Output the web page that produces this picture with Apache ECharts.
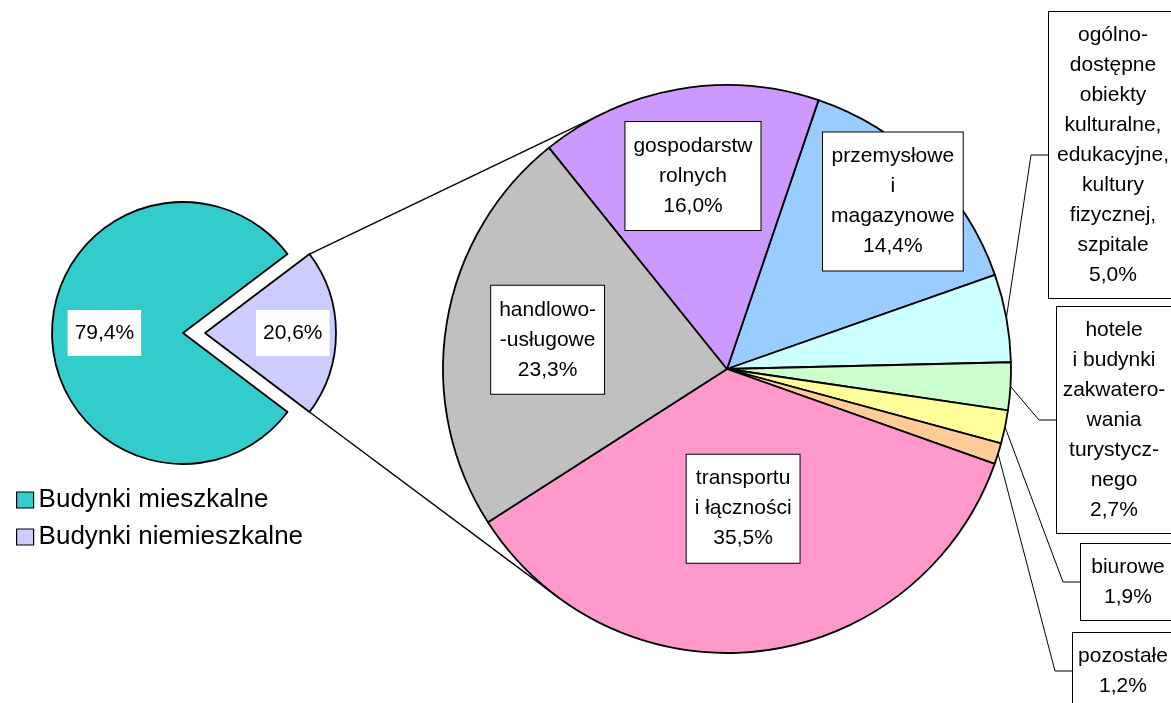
<!DOCTYPE html>
<html><head><meta charset="utf-8">
<script src="https://cdn.jsdelivr.net/npm/echarts@6/dist/echarts.min.js"></script>
<style>html,body{margin:0;padding:0;background:#fff;overflow:hidden}#chart{width:1171px;height:703px}</style>
</head><body><div id="chart"></div>
<script>
// ---------------- data ----------------
const mainCategories = ['Budynki mieszkalne', 'Budynki niemieszkalne'];
const mainValues = [79.4, 20.6];
const subCategories = [
  'przemysłowe\ni\nmagazynowe',
  'ogólno-\ndostępne\nobiekty\nkulturalne,\nedukacyjne,\nkultury\nfizycznej,\nszpitale',
  'hotele\ni budynki\nzakwatero-\nwania\nturystycz-\nnego',
  'biurowe',
  'pozostałe',
  'transportu\ni łączności',
  'handlowo-\n-usługowe',
  'gospodarstw\nrolnych'
];
const subValues = [14.4, 5.0, 2.7, 1.9, 1.2, 35.5, 23.3, 16.0];

// ---------------- styles / layout ----------------
const mainColors = ['#33CCCC', '#CCCCFF'];
const subColors = ['#99CCFF', '#CCFFFF', '#CCFFCC', '#FFFF99', '#FFCC99', '#FF99CC', '#C0C0C0', '#CC99FF'];
const FONT = "'Liberation Sans', Arial, Helvetica, sans-serif";
const mainPie = { cx: 183, cy: 333, r: 131, explode: 22 };
const subPie = { cx: 727, cy: 369, r: 284, startAngle: 71.2 };
const mainLabelDist = [0.6, 0.67];
const innerLabelDist = { 0: 0.83, 5: 0.495, 6: 0.64, 7: 0.69 };
const outerLabelBoxes = {
  1: { left: 1049, cy: 155, w: 128 },
  2: { left: 1057, cy: 420, w: 114 },
  3: { left: 1081, cy: 582, w: 94 },
  4: { left: 1073, cy: 671, w: 100 }
};
const leaderKnee = 18;
const PADH = 8;
const BORDER = 1.8;

function fmt(v) { return v.toFixed(1).replace('.', ',') + '%'; }
function sum(a) { return a.reduce((s, v) => s + v, 0); }
function midAngles(values, start) {
  const total = sum(values);
  let a = start;
  return values.map(v => { const span = v / total * 360; const m = a - span / 2; a -= span; return m; });
}
const RAD = Math.PI / 180;
const mainHalf = mainValues[1] / sum(mainValues) * 180;
const mainStart = 360 - mainHalf;
const mainMids = midAngles(mainValues, mainStart);
const subMids = midAngles(subValues, subPie.startAngle);

const baseLabel = {
  color: '#000', fontFamily: FONT, fontSize: 21, lineHeight: 30,
  backgroundColor: '#fff', overflow: 'none'
};

// exploded slice apex
const apexX = mainPie.cx + mainPie.explode * Math.cos(mainMids[1] * RAD);
const apexY = mainPie.cy - mainPie.explode * Math.sin(mainMids[1] * RAD);

// connector lines: from the exploded slice corners, tangent to the second pie
function tangentPoint(px, py, cx, cy, R, upper) {
  const dx = px - cx, dy = py - cy;
  const d = Math.hypot(dx, dy);
  const base = Math.atan2(dy, dx);
  const off = Math.acos(R / d);
  const a = upper ? base + off : base - off;
  return [cx + R * Math.cos(a), cy + R * Math.sin(a)];
}
const cornerTop = [apexX + mainPie.r * Math.cos(mainHalf * RAD), apexY - mainPie.r * Math.sin(mainHalf * RAD)];
const cornerBot = [apexX + mainPie.r * Math.cos(-mainHalf * RAD), apexY - mainPie.r * Math.sin(-mainHalf * RAD)];
const tTop = tangentPoint(cornerTop[0], cornerTop[1], subPie.cx, subPie.cy, subPie.r, true);
const tBot = tangentPoint(cornerBot[0], cornerBot[1], subPie.cx, subPie.cy, subPie.r, false);

function mainLabelPos(i, cx, cy) {
  const m = mainMids[i] * RAD, rr = mainLabelDist[i] * mainPie.r;
  return { x: cx + rr * Math.cos(m), y: cy - rr * Math.sin(m), align: 'center', verticalAlign: 'middle' };
}

const chart = echarts.init(document.getElementById('chart'), null, { renderer: 'canvas' });
chart.setOption({
  animation: false,
  backgroundColor: '#fff',
  legend: {
    data: mainCategories,
    orient: 'vertical',
    left: 11, top: 482,
    itemWidth: 17, itemHeight: 16, itemGap: 11,
    icon: 'rect',
    selectedMode: false,
    itemStyle: { borderColor: '#000', borderWidth: 1.2 },
    textStyle: { fontFamily: FONT, fontSize: 26, lineHeight: 24, color: '#000' }
  },
  graphic: [
    { type: 'line', z: 1, shape: { x1: cornerTop[0], y1: cornerTop[1], x2: tTop[0], y2: tTop[1] }, style: { stroke: '#000', lineWidth: 1.4 } },
    { type: 'line', z: 1, shape: { x1: cornerBot[0], y1: cornerBot[1], x2: tBot[0], y2: tBot[1] }, style: { stroke: '#000', lineWidth: 1.4 } }
  ],
  series: [
    {
      // left pie (with the exploded "non-residential" slice)
      type: 'pie',
      center: [mainPie.cx, mainPie.cy],
      radius: [0, mainPie.r],
      startAngle: mainStart,
      clockwise: true,
      selectedMode: 'single',
      selectedOffset: mainPie.explode,
      avoidLabelOverlap: false,
      emphasis: { disabled: true },
      itemStyle: { borderColor: '#000', borderWidth: BORDER },
      label: Object.assign({}, baseLabel, { position: 'inside', padding: [8, 7], formatter: p => fmt(p.value) }),
      labelLine: { show: false },
      labelLayout: p => mainLabelPos(p.dataIndex, mainPie.cx, mainPie.cy),
      data: mainCategories.map((n, i) => ({
        name: n, value: mainValues[i], selected: i === 1,
        itemStyle: { color: mainColors[i] },
        label: { show: i === 0 }
      }))
    },
    {
      // transparent copy of the left pie, centred on the exploded slice, carrying its label
      type: 'pie',
      silent: true,
      center: [apexX, apexY],
      radius: [0, mainPie.r],
      startAngle: mainStart,
      clockwise: true,
      avoidLabelOverlap: false,
      emphasis: { disabled: true },
      itemStyle: { color: 'rgba(0,0,0,0)', borderWidth: 0 },
      label: Object.assign({}, baseLabel, { position: 'inside', padding: [8, 7], formatter: p => fmt(p.value) }),
      labelLine: { show: false },
      labelLayout: p => mainLabelPos(p.dataIndex, apexX, apexY),
      data: mainCategories.map((n, i) => ({
        name: n, value: mainValues[i],
        label: { show: i === 1 }
      }))
    },
    {
      // right pie: breakdown of non-residential buildings
      type: 'pie',
      center: [subPie.cx, subPie.cy],
      radius: [0, subPie.r],
      startAngle: subPie.startAngle,
      clockwise: true,
      avoidLabelOverlap: false,
      emphasis: { disabled: true },
      itemStyle: { borderColor: '#000', borderWidth: BORDER },
      label: Object.assign({}, baseLabel, {
        position: 'outside', padding: [8, PADH],
        borderColor: '#000', borderWidth: 1,
        formatter: p => p.name + '\n' + fmt(p.value)
      }),
      labelLine: { show: true, length: 10, length2: leaderKnee, lineStyle: { color: '#000', width: 1 } },
      labelLayout: function (p) {
        const i = p.dataIndex;
        const b = outerLabelBoxes[i];
        if (b) {
          const m = subMids[i] * RAD;
          const start = (p.labelLinePoints && p.labelLinePoints[0]) ||
            [subPie.cx + subPie.r * Math.cos(m), subPie.cy - subPie.r * Math.sin(m)];
          return {
            x: b.left + b.w / 2, y: b.cy, align: 'center', verticalAlign: 'middle',
            labelLinePoints: [start, [b.left - leaderKnee, b.cy], [b.left, b.cy]]
          };
        }
        const m = subMids[i] * RAD, f = innerLabelDist[i];
        return { x: subPie.cx + f * subPie.r * Math.cos(m), y: subPie.cy - f * subPie.r * Math.sin(m), align: 'center', verticalAlign: 'middle' };
      },
      data: subCategories.map((n, i) => {
        const b = outerLabelBoxes[i];
        return {
          name: n, value: subValues[i],
          itemStyle: { color: subColors[i] },
          label: b ? { position: 'outside', width: b.w - 2 * PADH, align: 'center' } : { position: 'inside', padding: [9, PADH] },
          labelLine: { show: !!b }
        };
      })
    }
  ]
});
</script></body></html>
